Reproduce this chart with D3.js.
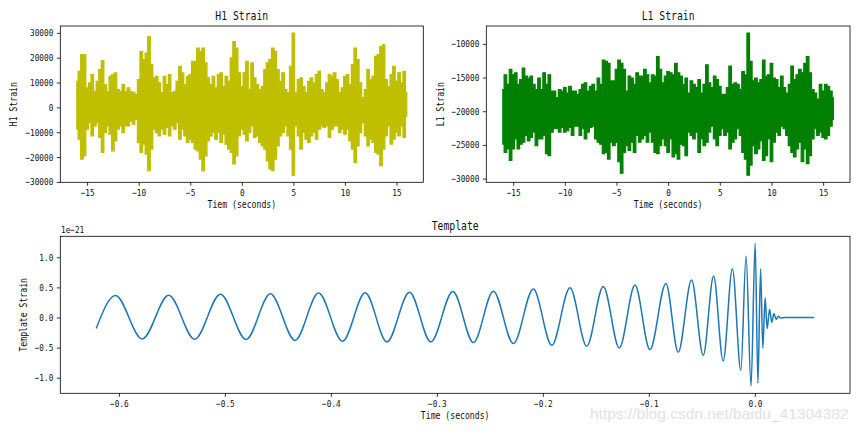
<!DOCTYPE html>
<html><head><meta charset="utf-8">
<script src="https://cdn.jsdelivr.net/npm/d3@7"></script>
<style>
body{margin:0;background:#fff}
svg{display:block}
</style>
</head><body>
<svg id="chart" width="864" height="432"></svg>
<script>
// ---------- DATA ----------
// Strain envelopes (thousands), sampled every 0.25 s from -16 s to 16 s
const strainStart = -16, strainStep = 0.25;
const h1Upper = [10.5,14.5,21.2,21.2,7.9,9.9,13.2,6.5,10.5,15.2,
18.8,9.2,6.5,12.5,13.2,13.9,7.2,6.5,9.2,6.5,
7.9,6.5,5.9,5.2,11.2,22.5,19.2,21.9,28.5,17.2,
11.9,12.5,9.9,5.9,12.5,9.2,13.2,5.9,6.5,10.5,
16.5,13.9,9.2,12.5,13.2,18.5,18.5,23.9,22.5,23.9,
17.9,11.9,9.2,12.5,7.9,13.2,13.9,8.5,12.5,10.5,
19.9,26.5,23.9,13.9,
8.5,13.9,18.5,7.2,17.9,11.9,9.2,7.2,8.5,15.2,
17.9,19.2,23.9,22.5,15.2,10.5,13.9,7.2,5.9,16.5,
29.9,5.9,11.2,11.9,8.5,5.9,10.5,11.9,9.9,13.2,
14.5,7.2,5.9,9.9,13.2,12.5,13.9,11.2,5.9,7.9,
12.5,13.2,9.2,17.2,23.9,19.2,9.9,3.9,7.2,15.2,
11.2,12.5,20.5,21.2,24.5,25.2,11.2,8.5,13.2,16.5,
10.5,13.9,9.9,14.5,5.9];
const h1Lower = [-8.8,-12.8,-20.8,-19.5,-8.8,-6.1,-11.5,-7.5,-6.1,-12.1,
-18.1,-10.1,-7.5,-10.8,-17.5,-13.5,-8.8,-7.5,-10.1,-7.5,
-7.5,-5.5,-6.8,-4.8,-14.1,-18.1,-14.8,-18.8,-25.5,-16.8,
-8.8,-10.1,-11.5,-8.8,-10.8,-8.1,-11.5,-7.5,-8.8,-6.1,
-12.8,-8.8,-11.5,-14.1,-12.8,-14.1,-16.8,-17.5,-20.8,-25.5,
-19.5,-13.5,-11.5,-10.1,-12.8,-10.1,-14.1,-10.8,-14.8,-16.8,
-18.1,-22.8,-19.5,-11.5,
-8.8,-10.8,-13.5,-10.1,-7.5,-12.1,-11.5,-14.1,-15.5,-16.8,
-21.5,-24.8,-25.5,-20.8,-15.5,-11.5,-10.1,-7.5,-11.5,-16.8,
-27.3,-7.5,-11.5,-16.8,-10.1,-12.8,-14.1,-11.5,-10.1,-12.8,
-8.8,-7.5,-8.1,-7.5,-12.1,-8.8,-7.5,-7.5,-10.1,-8.8,
-10.8,-8.8,-13.5,-16.8,-22.2,-15.5,-10.1,-6.1,-11.5,-15.5,
-12.8,-14.1,-18.1,-18.8,-23.5,-16.8,-11.5,-7.5,-14.8,-12.8,
-10.1,-11.5,-7.5,-12.1,-3.5];
const l1Upper = [-16.8,-14.6,-16.0,-13.8,-14.6,-14.3,-16.0,-15.3,-13.6,-14.8,
-15.1,-14.8,-16.0,-16.8,-15.1,-16.8,-14.3,-16.0,-14.6,-17.0,
-17.0,-18.0,-16.8,-17.0,-16.5,-17.3,-16.3,-17.0,-17.0,-17.5,
-16.8,-16.0,-15.8,-17.0,-16.3,-16.0,-17.0,-15.1,-16.0,-12.4,
-12.6,-12.9,-15.5,-15.5,-13.8,-12.4,-12.9,-13.8,-17.0,-14.8,
-15.1,-16.0,-14.3,-14.8,-14.8,-13.8,-14.6,-15.8,-14.6,-14.8,
-11.9,-13.8,-15.8,-14.8,
-14.1,-14.3,-14.6,-12.9,-14.3,-14.8,-16.0,-15.1,-17.3,-15.5,
-16.0,-16.5,-15.3,-17.3,-16.0,-13.1,-15.8,-16.5,-14.8,-15.3,
-16.3,-17.5,-17.5,-16.5,-13.3,-16.0,-15.8,-16.0,-16.8,-14.1,
-14.6,-8.4,-12.6,-15.5,-15.1,-15.8,-15.3,-12.4,-14.8,-14.6,
-12.9,-15.1,-15.3,-16.5,-14.8,-16.5,-17.3,-16.0,-13.3,-15.3,
-14.6,-13.8,-14.3,-12.9,-11.9,-14.3,-16.8,-17.3,-18.2,-16.0,
-17.0,-16.0,-16.3,-17.0,-18.0];
const l1Lower = [-24.9,-26.1,-25.6,-27.3,-25.6,-24.1,-25.6,-24.9,-24.6,-23.6,
-24.4,-23.9,-23.1,-25.1,-24.1,-24.1,-23.6,-26.3,-26.6,-23.1,
-22.6,-22.6,-23.1,-22.4,-23.1,-22.9,-22.4,-23.6,-22.2,-22.2,
-23.6,-22.6,-24.1,-23.1,-22.4,-22.2,-24.1,-24.6,-24.9,-26.3,
-26.1,-27.1,-24.6,-25.1,-24.6,-27.5,-29.2,-26.1,-25.1,-25.8,
-24.6,-26.1,-23.6,-24.6,-24.1,-23.6,-24.6,-23.1,-24.6,-26.1,
-26.3,-25.1,-24.1,-25.1,
-26.1,-24.1,-26.8,-26.3,-27.1,-24.9,-25.1,-26.6,-23.1,-23.6,
-24.1,-23.1,-26.1,-24.1,-25.1,-24.6,-23.1,-22.2,-24.1,-25.1,
-23.6,-22.6,-23.6,-23.1,-25.6,-24.6,-24.1,-22.6,-23.6,-26.1,
-27.1,-29.5,-28.0,-25.1,-26.3,-25.6,-24.4,-27.3,-26.6,-24.1,
-27.5,-24.6,-23.1,-23.6,-22.2,-22.6,-23.6,-25.1,-26.1,-26.8,
-25.6,-24.6,-27.5,-25.6,-27.8,-26.6,-24.1,-22.6,-23.6,-23.1,
-23.9,-24.1,-23.6,-22.2,-21.2];

// Template: extrema of the chirp (time in s, strain in units of 1e-21)
const templateTime = [-0.6214,-0.6032,-0.5780,-0.5530,-0.5285,-0.5042,-0.4800,-0.4571,-0.4338,-0.4116,
-0.3890,-0.3676,-0.3471,-0.3258,-0.3057,-0.2849,-0.2655,-0.2467,-0.2278,-0.2090,
-0.1916,-0.1744,-0.1586,-0.1430,-0.1279,-0.1131,-0.0990,-0.0839,-0.0723,-0.0597,
-0.0487,-0.0389,-0.0299,-0.0212,-0.0132,-0.0083,-0.0036,0.0003,0.0029,0.0054,
0.0075,0.0097,0.0116,0.0139,0.0160,0.0179,0.0201,0.0221,0.0245,0.0283,0.0559];
const templateStrain = [-0.183,0.367,-0.357,0.370,-0.360,0.388,-0.365,0.393,-0.380,0.405,
-0.395,0.410,-0.405,0.420,-0.405,0.433,-0.417,0.438,-0.433,0.472,
-0.462,0.494,-0.478,0.517,-0.506,0.538,-0.533,0.566,-0.578,0.622,
-0.628,0.688,-0.722,0.810,-0.878,1.020,-1.140,1.230,-1.090,0.810,
-0.510,0.327,-0.183,0.138,-0.083,0.067,-0.030,0.020,-0.010,0.0,0.0];

// Ticks
const strainXTicks = [-15,-10,-5,0,5,10,15];
const h1YTicks = [-30000,-20000,-10000,0,10000,20000,30000];
const l1YTicks = [-30000,-25000,-20000,-15000,-10000];
const templateXTicks = [-0.6,-0.5,-0.4,-0.3,-0.2,-0.1,0.0];
const templateYTicks = [-1.0,-0.5,0.0,0.5,1.0];

const h1Color = "#bfbf00", l1Color = "#008000", templateColor = "#1f77b4";
const FONT = "'DejaVu Sans Mono', monospace";

// ---------- DRAW ----------
const svg = d3.select("#chart");
svg.append("rect").attr("width",864).attr("height",432).attr("fill","#fff");

const strainTimes = h1Upper.map((_, i) => strainStart + i * strainStep);

function padded(lo, hi){ const p = (hi - lo) * 0.05; return [lo - p, hi + p]; }

function halfWidth(sel, size){
  sel.each(function(){
    const t = d3.select(this), n = (t.text() || "").length;
    if(n) t.attr("textLength", n * 0.49 * size).attr("lengthAdjust","spacingAndGlyphs");
  });
}

function panel(o){
  const x = d3.scaleLinear().domain(o.xDomain).range([o.left, o.right]);
  const y = d3.scaleLinear().domain(o.yDomain).range([o.bottom, o.top]);
  const g = svg.append("g");
  o.draw(g, x, y);
  g.append("rect").attr("x",o.left).attr("y",o.top)
    .attr("width",o.right-o.left).attr("height",o.bottom-o.top)
    .attr("fill","none").attr("stroke","#000").attr("stroke-width",0.8);
  const xa = g.append("g").attr("transform",`translate(0,${o.bottom})`)
    .call(d3.axisBottom(x).tickValues(o.xTicks).tickFormat(o.xFmt).tickSize(3.5).tickPadding(3.5));
  const ya = g.append("g").attr("transform",`translate(${o.left},0)`)
    .call(d3.axisLeft(y).tickValues(o.yTicks).tickFormat(o.yFmt).tickSize(3.5).tickPadding(3.5));
  [xa, ya].forEach(a => {
    a.select(".domain").remove();
    a.attr("font-family", FONT).attr("font-size", 9.5);
    a.selectAll("line").attr("stroke","#000").attr("stroke-width",0.8);
    a.selectAll("text").attr("fill","#111");
    halfWidth(a.selectAll("text"), 9.5);
  });
  const cx = (o.left + o.right) / 2, cy = (o.top + o.bottom) / 2;
  const title = g.append("text").attr("x",cx).attr("y",o.top-6.5).attr("text-anchor","middle")
    .attr("font-family",FONT).attr("font-size",12).attr("fill","#111").text(o.title);
  halfWidth(title, 12);
  const xl = g.append("text").attr("x",cx).attr("y",o.bottom+26).attr("text-anchor","middle")
    .attr("font-family",FONT).attr("font-size",10).attr("fill","#111").text(o.xlabel);
  halfWidth(xl, 10);
  const yl = g.append("text").attr("transform",`translate(${o.ylabelX},${cy}) rotate(-90)`)
    .attr("text-anchor","middle").attr("font-family",FONT).attr("font-size",10).attr("fill","#111").text(o.ylabel);
  halfWidth(yl, 10);
  return g;
}

function strainDraw(upper, lower, color){
  return (g, x, y) => {
    const area = d3.area()
      .x((d, i) => x(strainTimes[i]))
      .y0((d, i) => y(lower[i] * 1000))
      .y1(d => y(d * 1000))
      .curve(d3.curveStep);
    g.append("path").datum(upper).attr("d", area)
      .attr("fill", color).attr("stroke", color).attr("stroke-width", 1.2).attr("stroke-linejoin","miter");
  };
}

const fmtInt = d3.format("d"), fmt1 = d3.format(".1f");

panel({
  left:60.3, right:423.3, top:26, bottom:182.3,
  xDomain: padded(d3.min(strainTimes), d3.max(strainTimes)),
  yDomain: padded(d3.min(h1Lower)*1000, d3.max(h1Upper)*1000),
  xTicks: strainXTicks, yTicks: h1YTicks, xFmt: fmtInt, yFmt: fmtInt,
  title: "H1 Strain", xlabel: "Tiem (seconds)", ylabel: "H1 Strain", ylabelX: 16.5,
  draw: strainDraw(h1Upper, h1Lower, h1Color)
});

panel({
  left:486.3, right:850, top:26, bottom:182.3,
  xDomain: padded(d3.min(strainTimes), d3.max(strainTimes)),
  yDomain: padded(d3.min(l1Lower)*1000, d3.max(l1Upper)*1000),
  xTicks: strainXTicks, yTicks: l1YTicks, xFmt: fmtInt, yFmt: fmtInt,
  title: "L1 Strain", xlabel: "Time (seconds)", ylabel: "L1 Strain", ylabelX: 443.5,
  draw: strainDraw(l1Upper, l1Lower, l1Color)
});

const tg = panel({
  left:60.3, right:850, top:236.3, bottom:393.3,
  xDomain: padded(d3.min(templateTime), d3.max(templateTime)),
  yDomain: padded(d3.min(templateStrain), d3.max(templateStrain)),
  xTicks: templateXTicks, yTicks: templateYTicks, xFmt: fmt1, yFmt: fmt1,
  title: "Template", xlabel: "Time (seconds)", ylabel: "Template Strain", ylabelX: 27,
  draw: (g, x, y) => {
    const line = d3.line().x(d => x(d[0])).y(d => y(d[1])).curve(d3.curveMonotoneX);
    g.append("path").datum(templateTime.map((t, i) => [t, templateStrain[i]]))
      .attr("d", line).attr("fill","none").attr("stroke", templateColor)
      .attr("stroke-width", 1.5).attr("stroke-linejoin","round");
  }
});
const off = tg.append("text").attr("x",61).attr("y",233).attr("font-family",FONT)
  .attr("font-size",9.5).attr("fill","#111").text("1e\u221221");
halfWidth(off, 9.5);

// watermark
svg.append("text").attr("x",590).attr("y",419)
  .attr("font-family","'Liberation Sans', Arial, sans-serif").attr("font-size",15.5)
  .attr("fill","#e2e2e2").text("https://blog.csdn.net/baidu_41304382");
</script>
</body></html>
